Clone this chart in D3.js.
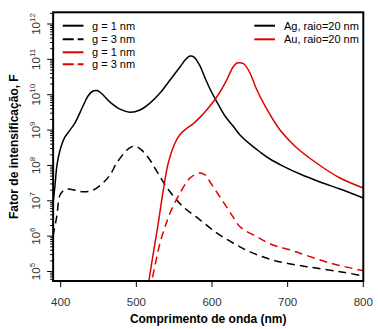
<!DOCTYPE html>
<html><head><meta charset="utf-8">
<script src="https://cdn.jsdelivr.net/npm/d3@7"></script>
<style>body{margin:0;background:#fff}svg{display:block}</style>
</head><body>
<svg id="c" width="378" height="329"></svg>
<script>
// Wavelength (nm) and intensification factor F
const agG1 = [[390,8.6e6],[392.5,2.8e7],[395.1,1.03e8],[399.1,2.7e8],[405.7,6.4e8],[412.3,1.0e9],[418.9,1.6e9],[429.5,4.8e9],[436.1,9.2e9],[442.7,1.27e10],[448,1.31e10],[453.3,1.12e10],[465.2,6.2e9],[478.4,3.9e9],[491.6,3.2e9],[504.8,3.7e9],[518,5.8e9],[531.3,1.12e10],[544.5,2.6e10],[557.7,6.1e10],[565.6,1.02e11],[570.9,1.24e11],[576.2,1.16e11],[584.1,6.5e10],[590.7,3.0e10],[597.4,1.45e10],[606.6,6.2e9],[617.2,2.5e9],[627.8,1.3e9],[637,7.3e8],[650.3,4.0e8],[663.5,2.4e8],[676.7,1.52e8],[693.9,9.6e7],[716.3,5.7e7],[742.8,3.4e7],[769.2,2.15e7],[800,1.2e7]];
const agG3 = [[389.8,1.0e6],[394.7,3.5e6],[399.1,1.46e7],[404.4,2.0e7],[410,2.15e7],[418.9,2.0e7],[429.5,1.8e7],[442.7,2.0e7],[455.9,3.2e7],[465.2,5.4e7],[474,1.17e8],[487.2,2.7e8],[492.9,3.3e8],[498.2,3.5e8],[507.1,2.7e8],[518,1.42e8],[531.3,4.8e7],[544.5,1.8e7],[561.7,6.8e6],[584.1,2.9e6],[606.2,1.23e6],[627.8,6.4e5],[650.3,3.6e5],[680.7,2.1e5],[725.2,1.37e5],[769.2,9.9e4],[800,7.5e4]];
const auG1 = [[514.7,3.0e4],[522.4,3.3e5],[529,2.35e6],[535.6,2.0e7],[542.2,1.17e8],[551.1,4.3e8],[557.7,7.5e8],[565,1.05e9],[575,1.5e9],[585,2.4e9],[593,3.7e9],[606.2,8.6e9],[619.4,2.6e10],[627.8,6.1e10],[633.1,7.9e10],[637,8.0e10],[642.3,7.4e10],[650.3,4.1e10],[658.2,1.55e10],[670.1,4.8e9],[689.9,1.0e9],[709.7,3.5e8],[736.2,1.25e8],[769.2,4.4e7],[800,2.3e7]];
const auG3 = [[518,3.0e4],[531.3,6.4e5],[537.9,1.8e6],[544.5,4.5e6],[557.7,1.66e7],[570.9,4.4e7],[578.9,5.7e7],[584.1,6.1e7],[590.8,5.4e7],[597.4,3.4e7],[610.6,1.28e7],[623.8,4.8e6],[637,1.85e6],[659.1,9.6e5],[680.7,5.6e5],[703.2,4.1e5],[716.3,3.3e5],[756,1.74e5],[800,1.05e5]];
const xTicks = [400,500,600,700,800];
const yExps = [5,6,7,8,9,10,11,12];
const legendLeft = [
  {label:"g = 1 nm", color:"#000", dash:null},
  {label:"g = 3 nm", color:"#000", dash:"11,4"},
  {label:"g = 1 nm", color:"#e00000", dash:null},
  {label:"g = 3 nm", color:"#e00000", dash:"11,4"}
];
const legendRight = [
  {label:"Ag, raio=20 nm", color:"#000"},
  {label:"Au, raio=20 nm", color:"#e00000"}
];
const series = [
  {data:agG1, color:"#000", dash:null},
  {data:agG3, color:"#000", dash:"8,5"},
  {data:auG1, color:"#e00000", dash:null},
  {data:auG3, color:"#e00000", dash:"8,5"}
];

const svg = d3.select("#c");
const font = "'Liberation Sans', Arial, sans-serif";
const x = d3.scaleLinear().domain([400,800]).range([60.7,363.3]);
const y = d3.scaleLog().domain([1e5,1e12]).range([271.5,24]);
const L = x(390), R = x(800), T = 12.3, B = 281;

svg.append("clipPath").attr("id","clip").append("rect")
  .attr("x",L).attr("y",T).attr("width",R-L).attr("height",B-T);

const line = d3.line().x(d=>x(d[0])).y(d=>y(d[1])).curve(d3.curveCatmullRom.alpha(0.5));
const g = svg.append("g").attr("clip-path","url(#clip)");
series.forEach(s=>{
  g.append("path").attr("d",line(s.data)).attr("fill","none")
   .attr("stroke",s.color).attr("stroke-width",1.5)
   .attr("stroke-dasharray",s.dash);
});

// box
svg.append("rect").attr("x",L).attr("y",T).attr("width",R-L).attr("height",B-T)
  .attr("fill","none").attr("stroke","#000").attr("stroke-width",2);

// x axis
const xa = svg.append("g");
xTicks.forEach(t=>{
  xa.append("line").attr("x1",x(t)).attr("x2",x(t)).attr("y1",B).attr("y2",B+6)
    .attr("stroke","#000").attr("stroke-width",1);
  xa.append("text").attr("x",x(t)).attr("y",306).attr("text-anchor","middle")
    .attr("font-family",font).attr("font-size",11.5).attr("fill","#333").text(t);
});
svg.append("text").attr("x",(L+R)/2).attr("y",322.5).attr("text-anchor","middle")
  .attr("font-family",font).attr("font-size",12).attr("font-weight","bold").text("Comprimento de onda (nm)");

// y axis
const ya = svg.append("g");
const yMin = y.invert(B), yMax = y.invert(T);
for (let e=4; e<=12; e++){
  for (let m=1; m<=9; m++){
    const v = m*Math.pow(10,e);
    if (v<yMin || v>yMax) continue;
    const len = m===1 ? 6 : 3;
    ya.append("line").attr("x1",L-len).attr("x2",L).attr("y1",y(v)).attr("y2",y(v))
      .attr("stroke","#000").attr("stroke-width",1);
  }
}
yExps.forEach(e=>{
  const t = ya.append("text").attr("transform",`translate(40,${y(Math.pow(10,e))}) rotate(-90)`)
    .attr("text-anchor","middle").attr("font-family",font).attr("font-size",11.5).attr("fill","#333");
  t.append("tspan").text("10");
  t.append("tspan").attr("font-size",8).attr("dy",-5).text(e);
});
svg.append("text").attr("transform",`translate(18,${(T+B)/2}) rotate(-90)`).attr("text-anchor","middle")
  .attr("font-family",font).attr("font-size",12).attr("font-weight","bold").text("Fator de intensificação, F");

// legends
const ly = [25.7,39.3,52.3,64.3];
legendLeft.forEach((d,i)=>{
  svg.append("line").attr("x1",62.7).attr("x2",83.5).attr("y1",ly[i]).attr("y2",ly[i])
    .attr("stroke",d.color).attr("stroke-width",2).attr("stroke-dasharray",d.dash);
  svg.append("text").attr("x",92).attr("y",ly[i]+4).attr("font-family",font).attr("font-size",11).text(d.label);
});
legendRight.forEach((d,i)=>{
  svg.append("line").attr("x1",254.3).attr("x2",275).attr("y1",ly[i]).attr("y2",ly[i])
    .attr("stroke",d.color).attr("stroke-width",2);
  svg.append("text").attr("x",284).attr("y",ly[i]+4).attr("font-family",font).attr("font-size",11).text(d.label);
});
</script>
</body></html>
